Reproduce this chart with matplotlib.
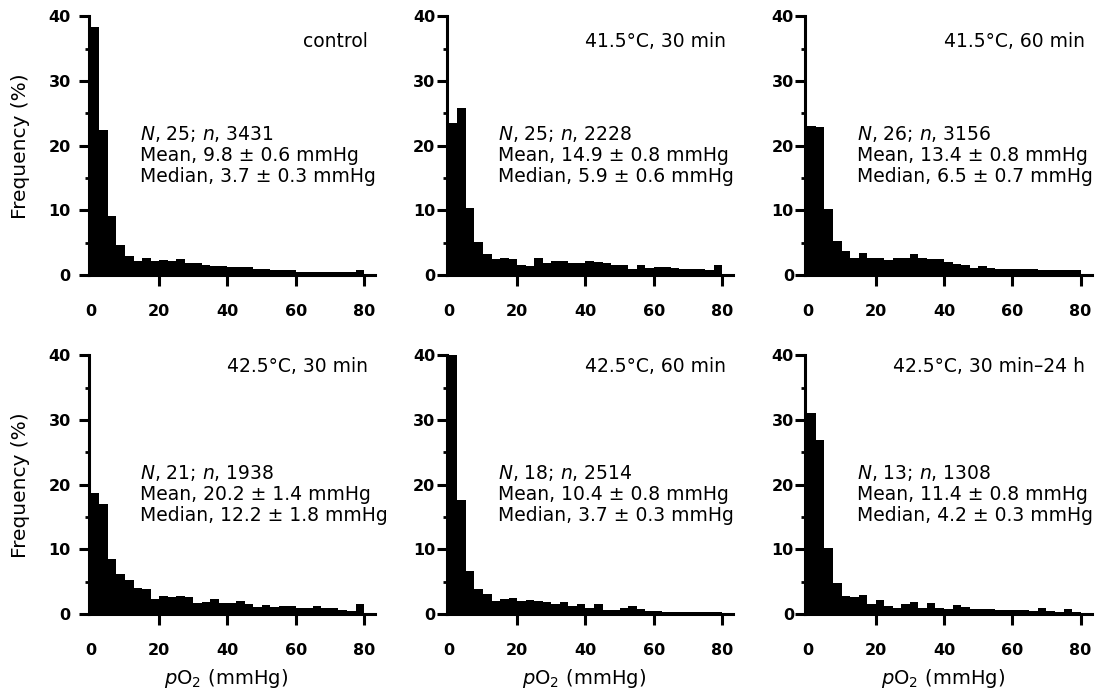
import numpy as np
import matplotlib
matplotlib.use("Agg")
import matplotlib.pyplot as plt
from matplotlib.ticker import MultipleLocator

plt.rcParams['font.family'] = ['DejaVu Sans']
plt.rcParams['mathtext.fontset'] = 'dejavusans'

# pO2 classes of 2.5 mmHg from 0 to 80 mmHg
bin_edges = np.arange(0, 82.5, 2.5)

# Frequency (%) per pO2 class for each treatment group
freq_control = [38.4, 22.5, 9.2, 4.7, 3.0, 2.2, 2.6, 2.1, 2.3, 2.2,
                2.5, 1.8, 1.8, 1.6, 1.4, 1.4, 1.2, 1.3, 1.2, 1.0,
                1.0, 0.7, 0.7, 0.8, 0.5, 0.5, 0.5, 0.5, 0.5, 0.5,
                0.5, 0.7]
freq_415_30 = [23.5, 25.8, 10.3, 5.1, 3.2, 2.4, 2.7, 2.4, 1.6, 1.4,
               2.6, 1.9, 2.2, 2.2, 1.8, 1.8, 2.1, 2.0, 1.9, 1.5,
               1.5, 1.0, 1.5, 1.1, 1.3, 1.2, 1.1, 1.0, 0.9, 0.9,
               0.7, 1.5]
freq_415_60 = [23.0, 22.9, 10.2, 5.3, 3.7, 2.7, 3.4, 2.7, 2.6, 2.3,
               2.6, 2.7, 3.3, 2.7, 2.4, 2.5, 2.0, 1.7, 1.6, 1.1,
               1.4, 1.1, 1.0, 0.9, 0.9, 0.9, 0.9, 0.8, 0.8, 0.7,
               0.7, 0.7]
freq_425_30 = [18.7, 17.0, 8.5, 6.2, 5.2, 4.1, 3.8, 2.4, 2.8, 2.6,
               2.8, 2.6, 1.7, 1.9, 2.3, 1.7, 1.7, 2.0, 1.5, 1.1,
               1.4, 1.1, 1.25, 1.25, 1.0, 1.0, 1.25, 0.9, 0.9, 0.7,
               0.5, 1.6]
freq_425_60 = [40.0, 17.6, 6.6, 3.8, 3.1, 2.0, 2.3, 2.5, 2.0, 2.2,
               2.0, 1.8, 1.6, 1.8, 1.3, 1.5, 0.9, 1.5, 0.7, 0.6,
               1.0, 1.2, 0.8, 0.5, 0.4, 0.3, 0.3, 0.3, 0.3, 0.3,
               0.3, 0.3]
freq_425_30_24h = [31.1, 27.0, 10.2, 4.8, 2.8, 2.6, 3.0, 1.6, 2.1, 1.2,
                   0.9, 1.5, 1.9, 1.0, 1.7, 0.9, 0.8, 1.4, 1.15, 0.8,
                   0.8, 0.75, 0.6, 0.7, 0.7, 0.6, 0.5, 0.9, 0.5, 0.3,
                   0.75, 0.3]

conditions = ["control", "41.5°C, 30 min", "41.5°C, 60 min",
              "42.5°C, 30 min", "42.5°C, 60 min", "42.5°C, 30 min–24 h"]
n_tumours = [25, 25, 26, 21, 18, 13]
n_readings = [3431, 2228, 3156, 1938, 2514, 1308]
mean_po2 = [9.8, 14.9, 13.4, 20.2, 10.4, 11.4]
mean_sem = [0.6, 0.8, 0.8, 1.4, 0.8, 0.8]
median_po2 = [3.7, 5.9, 6.5, 12.2, 3.7, 4.2]
median_sem = [0.3, 0.6, 0.7, 1.8, 0.3, 0.3]

frequencies = [freq_control, freq_415_30, freq_415_60,
               freq_425_30, freq_425_60, freq_425_30_24h]

x_ticks = [0, 20, 40, 60, 80]
y_ticks = [0, 10, 20, 30, 40]

fig = plt.figure(figsize=(11.03, 6.95), dpi=100)
fig.patch.set_facecolor('white')

col_left = [0.0805, 0.4051, 0.7301]
row_bottom = [0.6043, 0.1165]
ax_w, ax_h = 0.2595, 0.372
title_y = [35.3, 37.4]

for i, freq in enumerate(frequencies):
    row, col = divmod(i, 3)
    ax = fig.add_axes([col_left[col], row_bottom[row], ax_w, ax_h])

    # solid histogram silhouette, one filled step outline per panel
    ax.stairs(freq, bin_edges, fill=True, color='black', linewidth=0)

    ax.set_xlim(-0.6, 83.2)
    ax.set_ylim(0, 40)

    for side in ('top', 'right'):
        ax.spines[side].set_visible(False)
    for side in ('left', 'bottom'):
        ax.spines[side].set_linewidth(2.2)
    ax.spines['left'].set_bounds(0, 40)

    ax.set_xticks(x_ticks, [str(t) for t in x_ticks],
                  fontsize=11.5, fontweight='bold')
    ax.set_yticks(y_ticks, [str(t) for t in y_ticks],
                  fontsize=11.5, fontweight='bold')
    ax.yaxis.set_minor_locator(MultipleLocator(5))

    ypad = 6.0 if col == 0 else 1.2
    ax.tick_params(axis='y', which='major', direction='out',
                   length=7, width=2.2, pad=ypad)
    ax.tick_params(axis='y', which='minor', direction='out',
                   length=3, width=2)
    ax.tick_params(axis='x', which='major', direction='out',
                   length=8, width=2.2, pad=13)
    ax.xaxis.get_major_ticks()[0].tick1line.set_visible(False)

    ax.text(81.2, title_y[row], conditions[i], ha='right',
            va='baseline', fontsize=13.5)

    lines = [
        rf"$N$, {n_tumours[i]}; $n$, {n_readings[i]}",
        f"Mean, {mean_po2[i]:.1f} ± {mean_sem[i]:.1f} mmHg",
        f"Median, {median_po2[i]:.1f} ± {median_sem[i]:.1f} mmHg",
    ]
    for k, line in enumerate(lines):
        ax.text(14.5, 20.9 - 3.25 * k, line, ha='left', va='baseline',
                fontsize=13.5, clip_on=False)

    if col == 0:
        ax.set_ylabel("Frequency (%)", fontsize=14.5)
        ax.yaxis.set_label_coords(-0.205, 0.5)
    if row == 1:
        ax.set_xlabel(r"$p\mathrm{O}_2$ (mmHg)", fontsize=14)
        ax.xaxis.set_label_coords(0.48, -0.205)

fig.savefig("out.png", dpi=100, facecolor='white')
